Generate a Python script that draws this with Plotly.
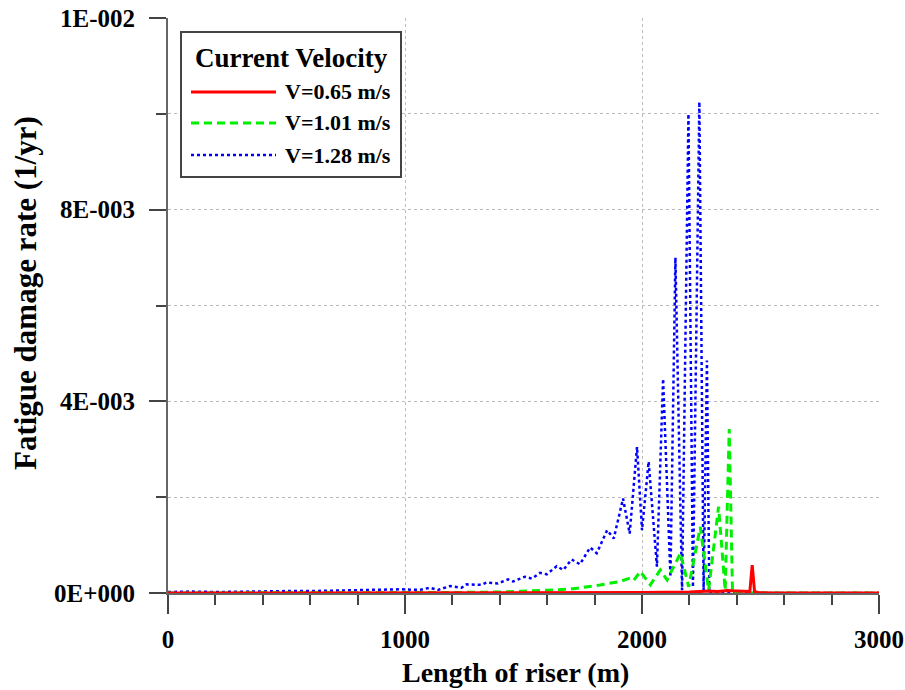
import plotly.graph_objects as go

# ---- data (x in m, y in 1/yr) ----
blue_x = [0, 100, 200, 300, 400, 500, 600, 700, 800, 900, 979, 1063, 1105, 1139, 1190, 1239, 1260,
          1323, 1345, 1392, 1435, 1456, 1506, 1535, 1570, 1598, 1640, 1668, 1703, 1738, 1781, 1809,
          1853, 1881, 1920, 1948, 1979, 2000, 2028, 2063, 2089, 2120, 2141, 2169, 2196, 2215, 2242,
          2260, 2274, 2284, 2300, 2400, 3000]
blue_y = [2e-5, 3e-5, 2e-5, 3e-5, 3e-5, 4e-5, 4e-5, 5e-5, 6e-5, 7e-5, 7.7e-5, 6.5e-5, 1.1e-4,
          6.5e-5, 1.45e-4, 1.1e-4, 1.8e-4, 1.7e-4, 2.2e-4, 2.0e-4, 2.85e-4, 2.4e-4, 3.4e-4, 3.0e-4,
          4.2e-4, 3.9e-4, 5.6e-4, 4.8e-4, 7.0e-4, 6.0e-4, 9.5e-4, 8.3e-4, 1.31e-3, 1.14e-3, 1.97e-3,
          1.24e-3, 3.05e-3, 1.31e-3, 2.74e-3, 5.5e-4, 4.47e-3, 3.4e-4, 7.0e-3, 6e-5, 1.0e-2, 1.2e-4,
          1.025e-2, 6e-5, 4.85e-3, 0, 0, 0, 0]

green_x = [0, 500, 1000, 1200, 1401, 1550, 1698, 1823, 1907, 1949, 1965, 1993, 2035, 2077, 2106,
           2162, 2197, 2246, 2281, 2323, 2351, 2368, 2382, 2400, 3000]
green_y = [0, 0, 5e-6, 1e-5, 2e-5, 5e-5, 8e-5, 1.67e-4, 2.4e-4, 3.1e-4, 2.6e-4, 4.5e-4, 1.7e-4,
           4.8e-4, 2.7e-4, 8.3e-4, 1.3e-4, 1.38e-3, 6e-5, 1.8e-3, 6e-5, 3.42e-3, 0, 0, 0]

red_x = [0, 500, 1000, 1500, 2000, 2200, 2280, 2320, 2360, 2400, 2440, 2455, 2465, 2475, 2490,
         2550, 3000]
red_y = [0, 0, 0, 5e-6, 1e-5, 2e-5, 4e-5, 3e-5, 5e-5, 4e-5, 3e-5, 3e-5, 5.8e-4, 3e-5, 1e-5, 0, 0]

series_names = ["V=0.65 m/s", "V=1.01 m/s", "V=1.28 m/s"]
legend_title = "Current Velocity"
x_title = "Length of riser (m)"
y_title = "Fatigue damage rate (1/yr)"
x_ticks = [0, 1000, 2000, 3000]
y_ticks = [0, 0.004, 0.008, 0.012]
y_ticktext = ["0E+000", "4E-003", "8E-003", "1E-002"]

FONT = "Liberation Serif"
RED, GREEN, BLUE = "#ff0000", "#00f000", "#0000ff"

fig = go.Figure()
fig.add_trace(go.Scatter(x=blue_x, y=blue_y, mode="lines", name=series_names[2],
                         line=dict(color=BLUE, width=2.5, dash="dot"), showlegend=False))
fig.add_trace(go.Scatter(x=green_x, y=green_y, mode="lines", name=series_names[1],
                         line=dict(color=GREEN, width=3, dash="8px,5px"), showlegend=False))
fig.add_trace(go.Scatter(x=red_x, y=red_y, mode="lines", name=series_names[0],
                         line=dict(color=RED, width=3), showlegend=False))

L, R, T, B = 168, 26, 18, 97
W, H = 905, 690
pw, ph = W - L - R, H - T - B


def px(xp):
    return (xp - L) / pw


def py(yp):
    return (H - B - yp) / ph


# custom legend
fig.add_shape(type="rect", xref="paper", yref="paper", x0=px(181), x1=px(401), y0=py(177), y1=py(32),
              line=dict(color="#444444", width=2), fillcolor="white", layer="above")
fig.add_annotation(xref="paper", yref="paper", x=px(291), y=py(58), text=legend_title, showarrow=False,
                   font=dict(family=FONT, size=27, color="black", weight="bold"), xanchor="center", yanchor="middle")
rows = [(series_names[0], RED, "solid", 3, 92), (series_names[1], GREEN, "8px,5px", 3, 123),
        (series_names[2], BLUE, "dot", 2.5, 155)]
for name, col, dash, wd, yy in rows:
    fig.add_shape(type="line", xref="paper", yref="paper", x0=px(191), x1=px(276), y0=py(yy), y1=py(yy),
                  line=dict(color=col, width=wd, dash=dash), layer="above")
    fig.add_annotation(xref="paper", yref="paper", x=px(283), y=py(yy), text=name, showarrow=False,
                       font=dict(family=FONT, size=22, color="black", weight="bold"),
                       xanchor="left", yanchor="middle")

# axis titles
fig.add_annotation(xref="paper", yref="paper", x=px(515), y=py(672), text=x_title, showarrow=False,
                   font=dict(family=FONT, size=28, color="black", weight="bold"),
                   xanchor="center", yanchor="middle")
fig.add_annotation(xref="paper", yref="paper", x=px(25), y=py(293), text=y_title, showarrow=False,
                   textangle=-90, font=dict(family=FONT, size=31, color="black", weight="bold"),
                   xanchor="center", yanchor="middle")

grid = dict(gridcolor="#bbbbbb", griddash="dot", gridwidth=1)
fig.update_layout(
    width=W, height=H, margin=dict(l=L, r=R, t=T, b=B, autoexpand=False),
    plot_bgcolor="white", paper_bgcolor="white",
    font=dict(family=FONT, color="black"),
    xaxis=dict(range=[0, 3000], tickvals=x_ticks, ticks="outside", ticklen=19, tickwidth=1.5,
               tickcolor="#444444", showline=True, linecolor="#666666", linewidth=2, zeroline=False,
               showgrid=True, automargin=False, ticklabelstandoff=4, **grid,
               minor=dict(dtick=200, tick0=0, ticks="outside", ticklen=10, tickcolor="#444444", showgrid=False),
               tickfont=dict(family=FONT, size=25, weight="bold")),
    yaxis=dict(range=[0, 0.012], tickvals=y_ticks, ticktext=y_ticktext, ticks="outside", ticklen=17,
               tickwidth=1.5, tickcolor="#444444", showline=True, linecolor="#666666", linewidth=2,
               zeroline=False, showgrid=True, automargin=False, ticklabelstandoff=9, **grid,
               minor=dict(dtick=0.002, tick0=0, ticks="outside", ticklen=10, tickcolor="#444444",
                          showgrid=True, **grid),
               tickfont=dict(family=FONT, size=25, weight="bold")),
)
fig.write_html("out.html")
